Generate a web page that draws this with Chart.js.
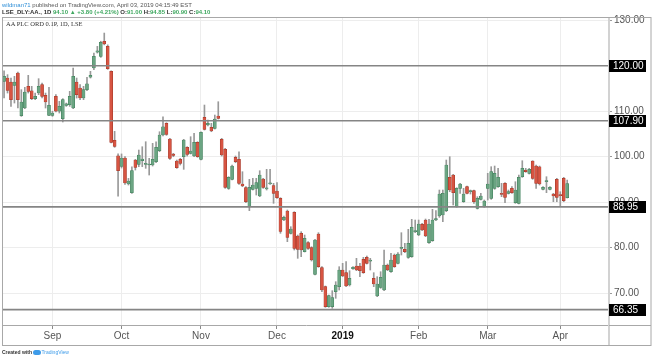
<!DOCTYPE html>
<html><head><meta charset="utf-8">
<script src="https://cdn.jsdelivr.net/npm/chart.js@4.4.1/dist/chart.umd.min.js"></script>
<style>
html,body{margin:0;padding:0;background:#fff;}
#wrap{position:relative;width:654px;height:360px;overflow:hidden;font-family:"Liberation Sans",Arial,sans-serif;}
canvas{position:absolute;left:0;top:0;}
.t{position:absolute;white-space:nowrap;line-height:1;}
.g{color:#3fa860;}
</style></head><body>
<div id="wrap">
<canvas id="c" width="654" height="360"></canvas>
<div class="t" style="left:2px;top:2px;font-size:6px;color:#555;"><span style="color:#2f8fd8">wildman71</span> published on TradingView.com, April 03, 2019 04:15:49 EST</div>
<div class="t" style="left:2px;top:9px;font-size:6px;font-weight:bold;color:#333;">LSE_DLY:AA., 1D <span class="g">94.10 ▲ +3.80 (+4.21%)</span> O:<span class="g">91.00</span> H:<span class="g">94.85</span> L:<span class="g">90.90</span> C:<span class="g">94.10</span></div>
<div class="t" style="left:6px;top:21px;font-family:'Liberation Serif',serif;font-size:6.5px;color:#333;">AA PLC ORD 0.1P, 1D, LSE</div>
<div class="t" style="left:2px;top:350px;font-size:5px;font-weight:bold;color:#333;">Created with <span style="display:inline-block;width:8px;height:5px;background:#3d9be9;border-radius:3px;vertical-align:middle;"></span><span style="color:#3d9be9;font-weight:normal;">TradingView</span></div>
</div>
<script>
const openP=[116.57,117.30,116.40,115.70,118.40,109.02,110.70,115.47,114.50,112.76,114.00,115.84,113.50,109.10,109.10,113.27,110.00,108.36,111.30,111.44,
110.70,116.40,115.10,112.90,114.74,117.50,119.50,123.00,122.07,125.40,124.27,118.77,103.60,100.20,97.87,99.70,93.98,92.07,99.26,98.31,
99.11,98.31,98.16,98.16,98.89,101.31,104.76,107.33,103.88,100.58,99.04,99.41,99.99,102.05,100.73,100.14,103.15,99.41,108.65,106.96,
106.45,106.23,108.94,103.81,101.61,93.03,95.00,99.85,99.41,93.98,93.17,88.99,92.81,93.03,91.34,95.08,92.90,94.00,93.61,92.44,
90.83,86.06,88.04,83.13,87.75,82.54,83.13,79.09,81.07,79.97,74.11,82.98,75.57,71.39,67.00,67.00,70.29,71.39,75.06,74.47,
71.76,75.35,75.94,75.94,77.41,77.85,77.00,73.23,69.34,71.25,70.66,76.16,74.69,78.36,76.53,79.83,79.61,77.85,77.99,83.49,
82.76,85.11,86.06,81.07,81.51,86.06,86.94,87.16,88.11,95.45,95.96,88.99,93.03,90.09,93.39,92.29,92.51,88.63,90.61,88.99,
93.03,90.83,93.03,93.39,91.93,94.13,91.93,93.03,89.87,89.73,95.59,97.06,96.33,99.04,97.94,97.79,92.81,94.49,92.81,91.78,
95.01,91.56,95.23,91.00];
const highP=[118.90,118.04,117.30,117.67,118.60,114.74,115.25,117.90,115.47,114.00,117.16,116.20,114.00,115.25,110.00,113.64,112.17,112.76,111.80,114.37,
119.50,117.30,115.84,115.47,117.45,118.77,122.80,124.27,125.40,127.20,124.60,118.90,105.57,100.60,100.60,100.00,95.22,97.79,99.41,101.46,
102.19,103.29,99.63,102.93,103.29,105.49,108.79,107.47,104.03,100.73,99.26,99.63,103.81,102.19,104.39,105.13,103.29,105.49,111.36,108.06,
107.33,109.16,112.09,104.03,101.83,95.59,98.16,100.14,101.09,96.69,93.39,95.01,95.23,95.23,96.91,95.23,97.21,97.21,94.13,94.27,
90.97,86.94,88.26,84.59,87.89,82.76,83.49,82.76,81.29,80.19,81.81,83.27,75.79,71.54,69.56,70.51,72.49,75.79,76.53,76.89,
74.91,75.79,77.63,76.53,77.85,78.14,77.63,74.47,73.59,74.69,79.46,76.38,78.73,78.58,78.87,83.27,80.93,84.01,86.21,86.06,
86.06,85.33,86.28,86.21,88.41,88.11,92.66,92.66,99.26,99.99,96.11,93.17,94.13,93.03,93.54,92.66,92.66,91.19,91.93,90.46,
96.33,97.79,97.94,97.43,94.13,94.27,92.66,93.39,94.49,95.96,99.11,97.43,97.43,99.11,98.16,97.94,93.39,95.59,93.39,91.93,
95.23,92.29,95.45,94.85];
const lowP=[112.90,114.00,111.07,111.80,110.70,108.87,110.56,114.00,112.54,112.54,113.64,112.90,110.70,109.02,108.87,109.83,109.60,107.63,111.07,111.07,
110.56,112.90,112.54,112.54,114.50,117.30,119.14,122.80,121.85,124.60,119.20,103.00,102.05,91.30,97.50,93.90,93.76,91.93,97.06,97.79,
97.79,97.43,95.96,97.94,98.67,101.09,104.54,104.69,99.41,99.99,97.43,98.16,97.21,100.14,100.58,99.99,99.85,99.26,105.86,106.74,
105.49,106.08,108.28,100.14,93.03,92.81,94.86,98.67,93.90,93.39,89.87,88.11,92.66,91.56,91.19,93.03,92.66,93.90,89.73,90.83,
83.13,85.91,81.29,82.98,79.46,77.63,77.99,79.02,79.61,77.04,73.96,75.65,70.29,66.85,66.85,66.63,68.83,70.66,73.59,71.39,
71.54,75.21,74.91,73.59,74.33,76.38,75.06,71.39,69.19,71.03,70.51,74.91,74.55,75.65,76.38,78.36,78.87,77.63,77.85,83.27,
82.61,83.71,82.39,80.93,81.37,85.91,86.65,85.69,87.89,92.29,89.36,88.85,91.93,89.95,91.78,91.78,89.73,88.48,90.46,88.85,
90.46,90.61,92.81,93.25,91.19,89.87,91.78,91.93,89.73,89.58,95.45,96.55,96.18,95.01,93.03,93.76,92.66,92.07,92.66,90.09,
90.09,88.99,90.09,90.90];
const closeP=[117.67,114.60,112.54,116.40,112.54,112.03,114.20,114.37,112.76,113.27,115.47,113.27,112.03,111.30,109.60,110.00,111.07,112.54,111.60,113.27,
117.67,113.64,112.90,114.74,116.00,117.90,122.07,123.30,125.15,124.80,119.35,103.15,102.27,96.90,99.70,94.20,94.64,96.91,97.65,100.36,
99.48,98.53,98.38,99.41,102.05,104.76,106.59,104.91,99.63,100.29,97.57,98.53,103.66,100.51,101.24,103.15,99.99,105.35,106.01,107.33,
105.64,108.28,108.43,100.36,93.25,95.45,97.94,98.89,94.13,93.54,90.09,93.25,93.76,94.27,95.96,93.25,93.03,94.13,91.93,90.97,
83.57,86.65,82.25,84.08,79.83,79.61,79.46,82.03,79.83,77.26,81.66,75.79,70.66,67.00,69.41,68.97,71.76,75.06,73.74,71.54,
73.23,75.65,75.06,74.91,74.47,76.53,77.20,71.98,71.98,73.45,76.16,75.06,77.26,75.79,78.58,80.05,79.09,80.93,84.45,83.71,
85.18,83.86,82.54,85.18,86.06,86.35,91.78,91.93,98.16,92.66,92.07,93.03,93.98,91.78,91.93,92.51,90.09,90.83,91.34,90.24,
93.98,96.69,96.33,95.45,91.71,91.05,92.29,92.07,92.66,95.45,97.43,96.69,97.21,95.23,94.13,93.98,93.25,94.71,93.25,91.34,
91.05,91.41,90.30,94.10];
const monthTickIndex=[14,34,57,79,98,120,140,161];
const monthTickLabels=['Sep','Oct','Nov','Dec','2019','Feb','Mar','Apr'];
const priceTicks=[70,80,90,100,110,120,130];
const levelLines=[120.00,107.90,88.95,66.35];

const isUp=closeP.map((c,i)=>c>=openP[i]);
const bodyData=openP.map((o,i)=>({x:i,y:[Math.min(o,closeP[i]),Math.max(o,closeP[i])]}));
const wickData=highP.map((h,i)=>({x:i,y:[lowP[i],h]}));

const overlay={
  id:'overlay',
  afterDatasetsDraw(chart){
    const {ctx,chartArea:a,scales:{y}}=chart;
    ctx.save();
    ctx.strokeStyle='#858585';ctx.lineWidth=1.6;
    levelLines.forEach(v=>{const py=y.getPixelForValue(v);ctx.beginPath();ctx.moveTo(a.left,py);ctx.lineTo(a.right,py);ctx.stroke();});
    ctx.restore();
  },
  afterDraw(chart){
    const {ctx,chartArea:a,scales:{y}}=chart;
    ctx.save();
    ctx.strokeStyle='#d2d2d2';ctx.lineWidth=2;
    ctx.beginPath();ctx.moveTo(a.right,a.top);ctx.lineTo(a.right,345);ctx.stroke();
    ctx.strokeStyle='#a8a8a8';ctx.lineWidth=1;
    ctx.beginPath();ctx.moveTo(a.right,a.bottom+0.5);ctx.lineTo(651,a.bottom+0.5);ctx.stroke();
    ctx.strokeRect(2.5,a.top+0.5,648.5,345-a.top);
    ctx.font='10px "Liberation Sans", Arial, sans-serif';
    ctx.textBaseline='middle';ctx.textAlign='left';
    levelLines.forEach(v=>{const py=y.getPixelForValue(v);
      ctx.fillStyle='#000';ctx.fillRect(a.right,Math.round(py)-6,37,12);
      ctx.fillStyle='#fff';ctx.fillText(v.toFixed(2),a.right+4,py+0.5);});
    ctx.restore();
  }
};

new Chart(document.getElementById('c'),{
  type:'bar',
  data:{datasets:[
    {data:bodyData,barThickness:3,minBarLength:1,grouped:false,borderSkipped:false,
     backgroundColor:c=>isUp[c.dataIndex]?'#6ba583':'#d75442',
     borderColor:c=>isUp[c.dataIndex]?'#3b7a55':'#9b3324',borderWidth:0.5},
    {data:wickData,barThickness:1,grouped:false,backgroundColor:'#999999'}
  ]},
  options:{
    responsive:false,animation:false,devicePixelRatio:1,
    layout:{padding:{left:3,top:17,right:3,bottom:15}},
    plugins:{legend:{display:false},tooltip:{enabled:false}},
    scales:{
      x:{type:'linear',min:-0.31,max:175.1,offset:false,
        afterBuildTicks:s=>{s.ticks=monthTickIndex.map(v=>({value:v}));},
        afterFit:s=>{s.height=20;},
        grid:{offset:false,color:'#ededed',tickColor:'#8a8a8a',tickLength:4},
        border:{color:'#a8a8a8'},
        ticks:{autoSkip:false,maxRotation:0,padding:1,
          color:c=>c.tick&&c.tick.label==='2019'?'#111':'#555',
          font:c=>({family:'"Liberation Sans", Arial, sans-serif',size:10,weight:(c.tick&&c.tick.label==='2019')?'bold':'normal'}),
          callback:v=>monthTickLabels[monthTickIndex.indexOf(v)]}},
      y:{position:'right',min:62.96,max:130.73,
        afterBuildTicks:s=>{s.ticks=priceTicks.map(v=>({value:v}));},
        afterFit:s=>{s.width=42;},
        grid:{color:'#ededed',tickColor:'#9a9a9a',tickLength:3},
        border:{color:'#d2d2d2'},
        ticks:{padding:2,color:'#555',font:{family:'"Liberation Sans", Arial, sans-serif',size:10},callback:v=>v.toFixed(2)}}
    }
  },
  plugins:[overlay]
});
</script>
</body></html>
